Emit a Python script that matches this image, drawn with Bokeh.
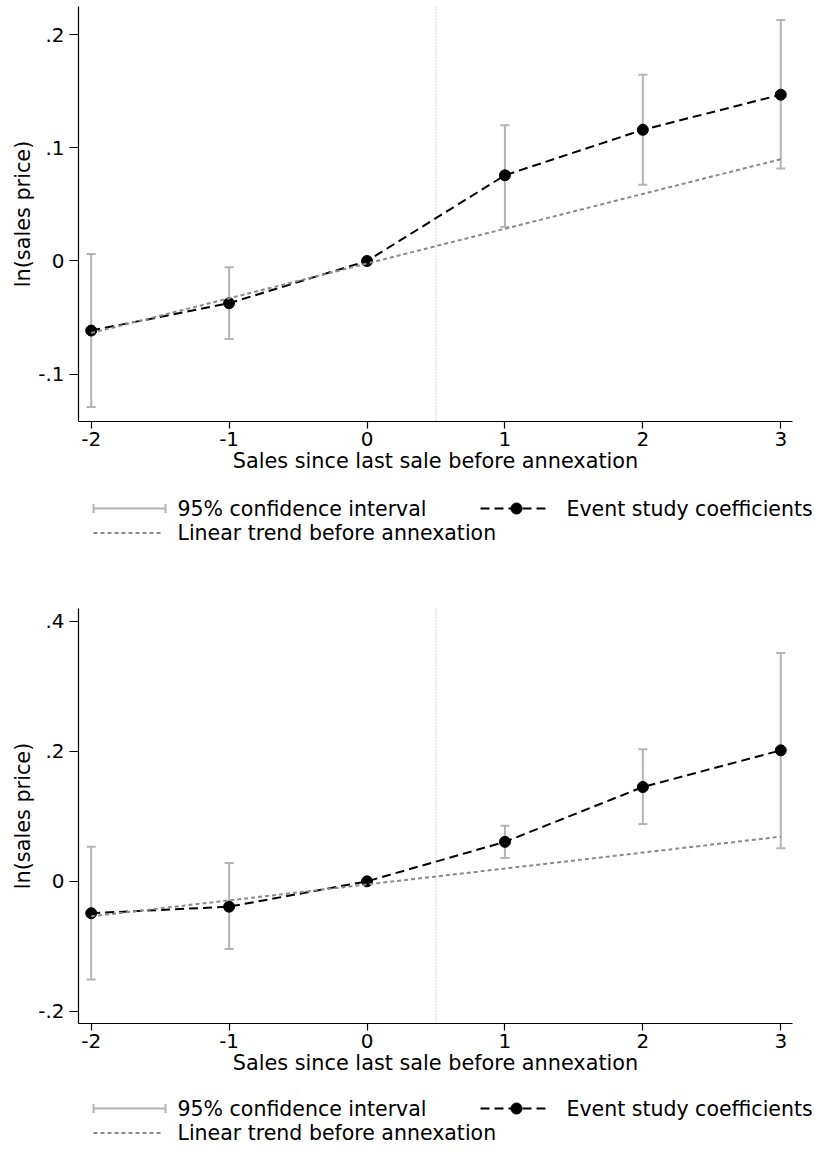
from bokeh.plotting import figure
from bokeh.layouts import column
from bokeh.models import (Range1d, FixedTicker, Whisker, TeeHead, ColumnDataSource,
                          Span, Plot)
from bokeh.embed import file_html
from bokeh.resources import INLINE
from bokeh.core.properties import value

NAN = float("nan")
FONT = "DejaVu Sans"

# ---------------- data ----------------
periods = [-2, -1, 0, 1, 2, 3]
x_tick_labels = ["-2", "-1", "0", "1", "2", "3"]
annex_x = 0.5

# Panel A (top)
coef_a = [-0.0615, -0.0373, 0.0, 0.0758, 0.1160, 0.1470]
ci_lo_a = [-0.1290, -0.0690, NAN, 0.0300, 0.0675, 0.0817]
ci_hi_a = [0.0062, -0.0056, NAN, 0.1200, 0.1646, 0.2130]
trend_a = [-0.0637, -0.0330, -0.0022, 0.0285, 0.0593, 0.0900]
y_ticks_a = [-0.1, 0.0, 0.1, 0.2]
y_tick_labels_a = ["-.1", "0", ".1", ".2"]

# Panel B (bottom)
coef_b = [-0.0490, -0.0390, 0.0, 0.0607, 0.1450, 0.2014]
ci_lo_b = [-0.1510, -0.1040, NAN, 0.0360, 0.0880, 0.0510]
ci_hi_b = [0.0530, 0.0280, NAN, 0.0855, 0.2030, 0.3510]
trend_b = [-0.0538, -0.0293, -0.0048, 0.0197, 0.0442, 0.0687]
y_ticks_b = [-0.2, 0.0, 0.2, 0.4]
y_tick_labels_b = ["-.2", "0", ".2", ".4"]

x_title = "Sales since last sale before annexation"
y_title = "ln(sales price)"
legend_labels = ["95% confidence interval", "Event study coefficients",
                 "Linear trend before annexation"]

# ---------------- styles / layout ----------------
CI_COLOR = "#b4b4b4"
TREND_COLOR = "#8a8a8a"
VLINE_COLOR = "#a8a8a8"
EVENT_DASH = "9 5"
TREND_DASH = "4 3"
FS_TITLE = "20.8px"
FS_TICK = "20px"
FS_LEG = "20.5px"
LEFT = 78          # left border (px) shared by all figures
FIG_W = 815
X_START, X_AXIS_END = -2.092, 3.085

CAN_UNALIGN = "frame_align" in Plot.properties()
if CAN_UNALIGN:
    RIGHT_MAIN, X_FRAME_END = 23, X_AXIS_END
else:
    RIGHT_MAIN, X_FRAME_END = 0, 3.252


def main_fig(coef, lo, hi, trend, yr, yt, ytl, height, bottom):
    p = figure(width=FIG_W, height=height, title=None,
               x_range=Range1d(X_START, X_FRAME_END), y_range=Range1d(*yr),
               min_border_left=LEFT, min_border_right=RIGHT_MAIN, min_border_top=6,
               min_border_bottom=bottom, toolbar_location=None,
               output_backend="svg")
    p.grid.visible = False
    p.outline_line_color = None
    p.background_fill_color = "white"

    src = ColumnDataSource(dict(x=periods, coef=coef, lo=lo, hi=hi, trend=trend))

    p.add_layout(Span(location=annex_x, dimension="height", line_color=VLINE_COLOR,
                      line_width=1, line_dash="1 2", level="underlay"))
    p.add_layout(Whisker(base="x", lower="lo", upper="hi", source=src,
                         line_color=CI_COLOR, line_width=2, level="underlay",
                         upper_head=TeeHead(size=9, line_color=CI_COLOR, line_width=2),
                         lower_head=TeeHead(size=9, line_color=CI_COLOR, line_width=2)))

    p.line("x", "coef", source=src, line_color="black", line_width=2,
           line_dash=EVENT_DASH)
    p.scatter("x", "coef", source=src, size=11, fill_color="black",
              line_color="black")
    p.line("x", "trend", source=src, line_color=TREND_COLOR, line_width=2,
           line_dash=TREND_DASH)

    p.xaxis.ticker = FixedTicker(ticks=periods)
    p.xaxis.major_label_overrides = dict(zip(periods, x_tick_labels))
    p.xaxis.bounds = (X_START, X_AXIS_END)
    p.yaxis.ticker = FixedTicker(ticks=yt)
    p.yaxis.major_label_overrides = dict(zip(yt, ytl))
    p.xaxis.axis_label = x_title
    p.yaxis.axis_label = y_title
    for ax in (p.xaxis, p.yaxis):
        ax.axis_label_text_font = FONT
        ax.axis_label_text_font_size = FS_TITLE
        ax.axis_label_text_font_style = "normal"
        ax.axis_label_text_color = "black"
        ax.major_label_text_font = FONT
        ax.major_label_text_font_size = FS_TICK
        ax.major_label_text_color = "black"
        ax.axis_line_color = "black"
        ax.axis_line_width = 1.2
        ax.major_tick_line_color = "black"
        ax.major_tick_line_width = 1.2
        ax.major_tick_in = 0
        ax.minor_tick_line_color = None
    p.xaxis.major_tick_out = 7
    p.yaxis.major_tick_out = 9
    p.xaxis.major_label_standoff = 3
    p.yaxis.major_label_standoff = 5
    p.xaxis.axis_label_standoff = 0
    p.yaxis.axis_label_standoff = 0
    return p


def legend_fig(top, bottom, r1, r2):
    # legend strip; its ranges are page pixels so the key can be laid out directly
    lf = figure(width=FIG_W, height=bottom - top, title=None,
                x_range=Range1d(LEFT, FIG_W), y_range=Range1d(bottom, top),
                x_axis_type=None, y_axis_type=None,
                min_border_left=LEFT, min_border_right=0, min_border_top=0,
                min_border_bottom=0, toolbar_location=None, output_backend="svg")
    if CAN_UNALIGN:
        lf.frame_align = False
    lf.grid.visible = False
    lf.outline_line_color = None
    ci_src = ColumnDataSource(dict(base=[r1], lower=[93], upper=[165]))
    lf.add_layout(Whisker(base="base", lower="lower", upper="upper", source=ci_src,
                          dimension="width", line_color=CI_COLOR, line_width=2,
                          upper_head=TeeHead(size=9, line_color=CI_COLOR, line_width=2),
                          lower_head=TeeHead(size=9, line_color=CI_COLOR, line_width=2)))
    lf.line([480, 550], [r1, r1], line_color="black", line_width=2,
            line_dash=EVENT_DASH)
    lf.scatter([516], [r1], size=11, fill_color="black", line_color="black")
    lf.line([93, 163], [r2, r2], line_color=TREND_COLOR, line_width=2,
            line_dash=TREND_DASH)
    lf.text(x=[177, 566, 177], y=[r1, r1, r2], text=legend_labels,
            text_font=value(FONT), text_font_size=FS_LEG, text_color="black",
            text_baseline="middle", text_align="left")
    return lf


pa = main_fig(coef_a, ci_lo_a, ci_hi_a, trend_a, (-0.1419, 0.2250),
              y_ticks_a, y_tick_labels_a, 491, 70)
la = legend_fig(491, 602, 508, 532.5)
pb = main_fig(coef_b, ci_lo_b, ci_hi_b, trend_b, (-0.2186, 0.4195),
              y_ticks_b, y_tick_labels_b, 489, 68)
lb = legend_fig(1091, 1150, 1108, 1132.5)

layout = column(pa, la, pb, lb, spacing=0)
open("out.html", "w").write(file_html(layout, INLINE))
